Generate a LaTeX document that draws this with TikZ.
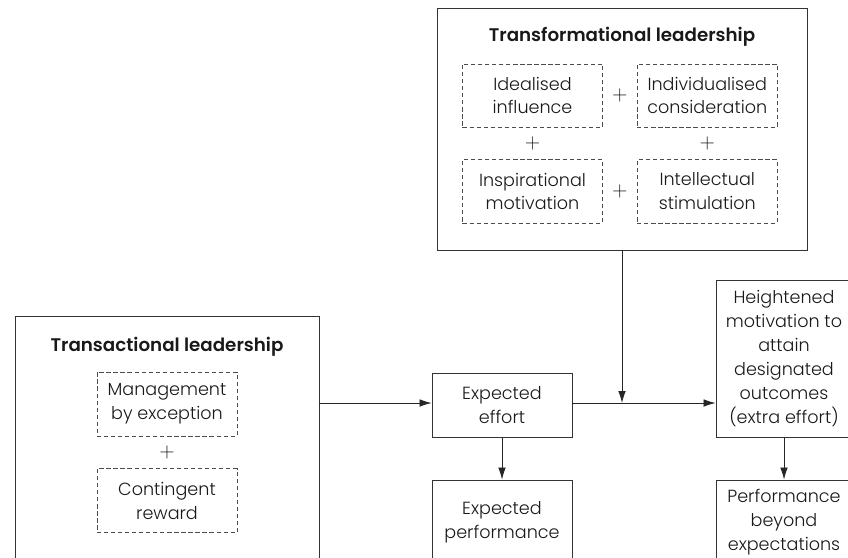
\documentclass[tikz,border=0pt]{standalone}
\usepackage{fontspec}
\setmainfont{Poppins}[UprightFont=* Light, BoldFont=* SemiBold]
\usetikzlibrary{positioning,arrows.meta,calc}

\tikzset{
  box/.style={draw=black!80, line width=0.6pt, align=center, inner sep=2pt},
  part/.style={draw=black!70, dashed, dash pattern=on 3pt off 2pt, line width=0.5pt,
    minimum width=3.5cm, minimum height=1.58cm, align=center},
  heading/.style={font=\fontsize{13}{15}\selectfont\bfseries},
  plus/.style={inner sep=0pt, font=\fontsize{15}{15}\selectfont},
  link/.style={draw=black!85, line width=0.6pt, -{Latex[length=3mm,width=1.9mm]}},
}

\begin{document}
\begin{tikzpicture}[x=0.025cm, y=-0.025cm,
    font=\fontsize{12.5}{17}\selectfont, text=black!90]
  \useasboundingbox (0,0) rectangle (848,558);
  \clip (0,0) rectangle (848,558);

  \node[box, minimum width=9.25cm, minimum height=6.05cm] (trf) at (622,129) {};
  \node[heading] (trft) at (622,37) {Transformational leadership};
  \node[part] (ideal) at (532.5,95.5) {Idealised\\influence};
  \node[part, right=0.85cm of ideal] (indiv) {Individualised\\consideration};
  \node[part, below=0.8cm of ideal] (insp) {Inspirational\\motivation};
  \node[part, right=0.85cm of insp] (intel) {Intellectual\\stimulation};
  \node[plus] (p1) at ($(ideal.east)!0.5!(indiv.west)$) {$+$};
  \node[plus] (p2) at ($(insp.east)!0.5!(intel.west)$) {$+$};
  \node[plus] (p3) at ($(ideal.south)!0.5!(insp.north)$) {$+$};
  \node[plus] (p4) at ($(indiv.south)!0.5!(intel.north)$) {$+$};

  \node[box, minimum width=7.6cm, minimum height=7.2cm] (trs) at (167,460) {};
  \node[heading] (trst) at (167,347) {Transactional leadership};
  \node[part, minimum height=1.6cm] (mbe) at (167,404) {Management\\by exception};
  \node[part, minimum height=1.6cm, below=0.8cm of mbe] (cr) {Contingent\\reward};
  \node[plus] (p5) at ($(mbe.south)!0.5!(cr.north)$) {$+$};

  \node[box, minimum width=3.5cm, minimum height=1.58cm] (eff) at (502,405.5) {Expected\\effort};
  \node[box, minimum width=3.5cm, minimum height=2.1cm] (expp) at (502,522) {Expected\\performance};
  \node[box, minimum width=3.4cm, minimum height=3.92cm] (hgt) at (784,358.5)
    {Heightened\\motivation to\\attain\\designated\\outcomes\\(extra effort)};
  \node[box, minimum width=3.4cm, minimum height=2.1cm] (pbe) at (784,522)
    {Performance\\beyond\\expectations};

  \coordinate (j) at (trf.south |- 0,403);
  \draw[link] (trs.east |- j) -- (eff.west |- j);
  \draw[link] (eff.east |- j) -- (hgt.west |- j);
  \draw[link] (trf.south) -- (j);
  \draw[link] (eff.south) -- (expp.north);
  \draw[link] (hgt.south) -- (pbe.north);
\end{tikzpicture}
\end{document}
